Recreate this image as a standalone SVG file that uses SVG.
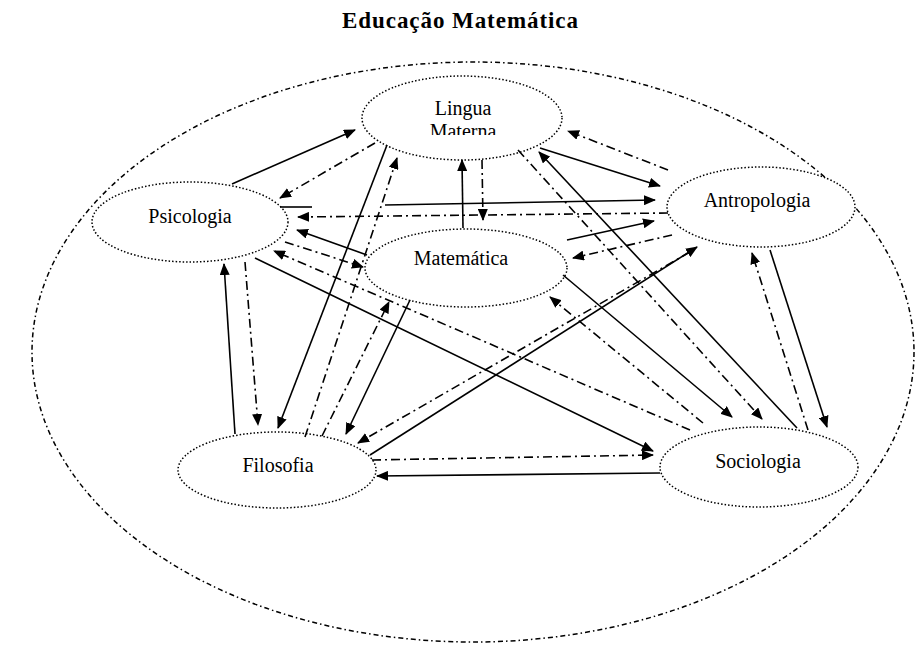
<svg xmlns="http://www.w3.org/2000/svg" width="919" height="668" viewBox="0 0 919 668">
<defs>
<style>
.bg{fill:#fff}
.outer{fill:none;stroke:#000;stroke-width:1.5;stroke-dasharray:5 3 1.5 3}
.node ellipse{fill:#fff;stroke:#000;stroke-width:1.5;stroke-dasharray:1.5 2}
.lbl{font-family:"Liberation Serif","Times New Roman",serif;font-size:20px;fill:#000;text-anchor:middle}
.title{font-family:"Liberation Serif","Times New Roman",serif;font-size:23px;font-weight:bold;fill:#000;text-anchor:middle}
.s{fill:none;stroke:#000;stroke-width:1.6;marker-end:url(#ah)}
.d{fill:none;stroke:#000;stroke-width:1.6;stroke-dasharray:9 4 2 4;marker-end:url(#ah)}
.p{fill:none;stroke:#000;stroke-width:1.6}
</style>
<marker id="ah" viewBox="0 0 12 10" refX="11" refY="5" markerWidth="12" markerHeight="10" markerUnits="userSpaceOnUse" orient="auto">
<path d="M0,0 L12,5 L0,10 z" fill="#000"/>
</marker>
<clipPath id="mclip"><rect x="400" y="100" width="120" height="35"/></clipPath>
</defs>
<rect class="bg" x="0" y="0" width="919" height="668"/>
<text class="title" x="460" y="28" textLength="236" lengthAdjust="spacing">Educação Matemática</text>
<ellipse class="outer" cx="473" cy="352" rx="441" ry="290"/>

<g id="lingua" class="node">
<ellipse cx="462" cy="118" rx="100" ry="42"/>
<text class="lbl" x="463" y="115">Lingua</text>
<text class="lbl" x="463" y="138" clip-path="url(#mclip)">Materna</text>
</g>
<g id="psicologia" class="node">
<ellipse cx="190" cy="222" rx="98" ry="40"/>
<text class="lbl" x="190" y="223">Psicologia</text>
</g>
<g id="antropologia" class="node">
<ellipse cx="761" cy="207" rx="94" ry="40"/>
<text class="lbl" x="757" y="207">Antropologia</text>
</g>
<g id="matematica" class="node">
<ellipse cx="466" cy="268" rx="101" ry="39"/>
<text class="lbl" x="461" y="265">Matemática</text>
</g>
<g id="filosofia" class="node">
<ellipse cx="277" cy="470" rx="99" ry="38"/>
<text class="lbl" x="278" y="472">Filosofia</text>
</g>
<g id="sociologia" class="node">
<ellipse cx="759" cy="467" rx="99" ry="40"/>
<text class="lbl" x="758" y="468">Sociologia</text>
</g>

<g id="connectors">
<path class="s" d="M232,184 L355,130"/>
<path class="d" d="M375,143 L280,198"/>
<path class="d" d="M668,213 L298,217"/>
<path class="p" d="M280,207 L312,207"/>
<path class="s" d="M385,205 L655,200"/>
<path class="s" d="M367,255 L297,230"/>
<path class="d" d="M285,242 L363,267"/>
<path class="s" d="M235,434 L224,264"/>
<path class="d" d="M245,262 L258,425"/>
<path class="s" d="M255,258 L653,451"/>
<path class="d" d="M690,430 L274,251"/>
<path class="s" d="M463,228 L462,160"/>
<path class="d" d="M482,160 L483,220"/>
<path class="s" d="M540,148 L660,186"/>
<path class="d" d="M668,170 L568,131"/>
<path class="s" d="M387,145 L278,428"/>
<path class="d" d="M305,437 L397,158"/>
<path class="s" d="M797,428 L539,152"/>
<path class="d" d="M518,150 L762,419"/>
<path class="s" d="M567,240 L654,221"/>
<path class="d" d="M672,235 L573,258"/>
<path class="s" d="M410,300 L346,434"/>
<path class="d" d="M322,436 L389,302"/>
<path class="s" d="M563,275 L732,417"/>
<path class="d" d="M703,423 L550,297"/>
<path class="s" d="M370,455 L697,247"/>
<path class="d" d="M690,252 L358,443"/>
<path class="s" d="M770,250 L827,427"/>
<path class="d" d="M808,430 L752,253"/>
<path class="d" d="M372,460 L653,455"/>
<path class="s" d="M660,473 L377,476"/>
</g>
</svg>
